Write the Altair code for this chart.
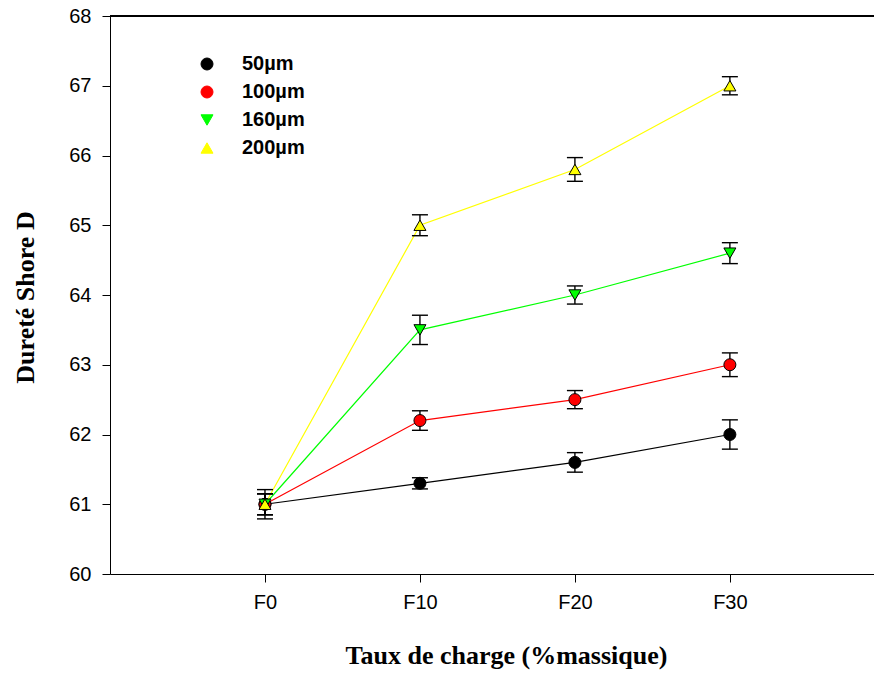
import altair as alt
import pandas as pd

categories = ["F0", "F10", "F20", "F30"]
series = ["50µm", "100µm", "160µm", "200µm"]
v50 = [61.0, 61.3, 61.6, 62.0]
e50 = [0.21, 0.08, 0.14, 0.21]
v100 = [61.0, 62.2, 62.5, 63.0]
e100 = [0.15, 0.14, 0.13, 0.17]
v160 = [61.0, 63.5, 64.0, 64.6]
e160 = [0.15, 0.21, 0.13, 0.15]
v200 = [61.0, 65.0, 65.8, 67.0]
e200 = [0.15, 0.15, 0.17, 0.13]

colors = ["#000000", "#ff0000", "#00ff00", "#ffff00"]
shapes = ["circle", "circle", "triangle-down", "triangle-up"]
sizes = [144, 144, 190, 190]

rows = []
for s, vals, errs in zip(series, [v50, v100, v160, v200], [e50, e100, e160, e200]):
    for i, (c, v, e) in enumerate(zip(categories, vals, errs)):
        rows.append({"serie": s, "cat": c, "xi": i, "val": v, "lo": v - e, "hi": v + e})
df = pd.DataFrame(rows)

label_expr = "[" + ",".join("'%s'" % c for c in categories) + "][datum.value]"

LX, LY = 87, 38

xenc = alt.X(
    "xi:Q",
    scale=alt.Scale(domain=[-1, 3.93], nice=False, zero=False),
    axis=alt.Axis(
        values=list(range(len(categories))),
        labelExpr=label_expr,
        title="Taux de charge (%massique)",
        grid=False,
        tickSize=8,
        labelPadding=10,
        labelFont="Liberation Sans",
        labelFontSize=20,
        labelColor="black",
        titleFont="Liberation Serif",
        titleFontSize=26,
        titleFontWeight="bold",
        titleColor="black",
        titleX=396,
        titleY=89,
        titleBaseline="alphabetic",
        domainColor="black",
        tickColor="black",
        labelFlush=False,
    ),
)
yscale = alt.Scale(domain=[60, 68], nice=False, zero=False)
yaxis = alt.Axis(
    values=list(range(60, 69)),
    format="d",
    title="Dureté Shore D",
    grid=False,
    tickSize=8,
    labelPadding=11,
    labelFont="Liberation Sans",
    labelFontSize=20,
    labelColor="black",
    titleFont="Liberation Serif",
    titleFontSize=26,
    titleFontWeight="bold",
    titleColor="black",
    titleX=-77,
    titleY=281,
    titleAngle=270,
    titleAlign="center",
    titleBaseline="alphabetic",
    domainColor="black",
    tickColor="black",
)

pt_legend = dict(
    title=None,
    orient="none",
    legendX=LX,
    legendY=LY,
    symbolSize=150,
    symbolStrokeColor="black",
    symbolStrokeWidth=1,
    labelFont="Liberation Sans",
    labelFontSize=20,
    labelFontWeight="bold",
    labelColor="black",
    labelOffset=25,
    rowPadding=8,
    padding=0,
)

base = alt.Chart(df)

lines = base.mark_line(strokeWidth=1.2).encode(
    x=xenc,
    y=alt.Y("val:Q", scale=yscale, axis=yaxis),
    stroke=alt.Stroke(
        "serie:N",
        scale=alt.Scale(domain=series, range=colors),
        legend=alt.Legend(**pt_legend),
    ),
)

err_rule = base.mark_rule(color="black", strokeWidth=1.4, opacity=1).encode(
    x="xi:Q", y="lo:Q", y2="hi:Q"
)
cap_lo = base.mark_tick(color="black", thickness=1.4, size=16, orient="horizontal", opacity=1).encode(
    x="xi:Q", y="lo:Q"
)
cap_hi = base.mark_tick(color="black", thickness=1.4, size=16, orient="horizontal", opacity=1).encode(
    x="xi:Q", y="hi:Q"
)

points = base.mark_point(filled=True, stroke="black", strokeWidth=1, opacity=1).encode(
    x="xi:Q",
    y="val:Q",
    fill=alt.Fill(
        "serie:N",
        scale=alt.Scale(domain=series, range=colors),
        legend=alt.Legend(**pt_legend),
    ),
    shape=alt.Shape(
        "serie:N",
        scale=alt.Scale(domain=series, range=shapes),
        legend=alt.Legend(**pt_legend),
    ),
    size=alt.Size("serie:N", scale=alt.Scale(domain=series, range=sizes), legend=None),
)

top = alt.Chart(df).mark_rule(color="black", strokeWidth=1).encode(y=alt.datum(68))

chart = (
    alt.layer(top, lines, err_rule, cap_lo, cap_hi, points)
    .properties(
        width=764,
        height=558,
        autosize=alt.AutoSizeParams(type="none"),
        padding={"left": 110, "top": 16, "right": 0, "bottom": 96},
        background="white",
    )
    .configure_view(stroke=None)
)

chart.save("out.html", embed_options={"renderer": "svg", "actions": False})
